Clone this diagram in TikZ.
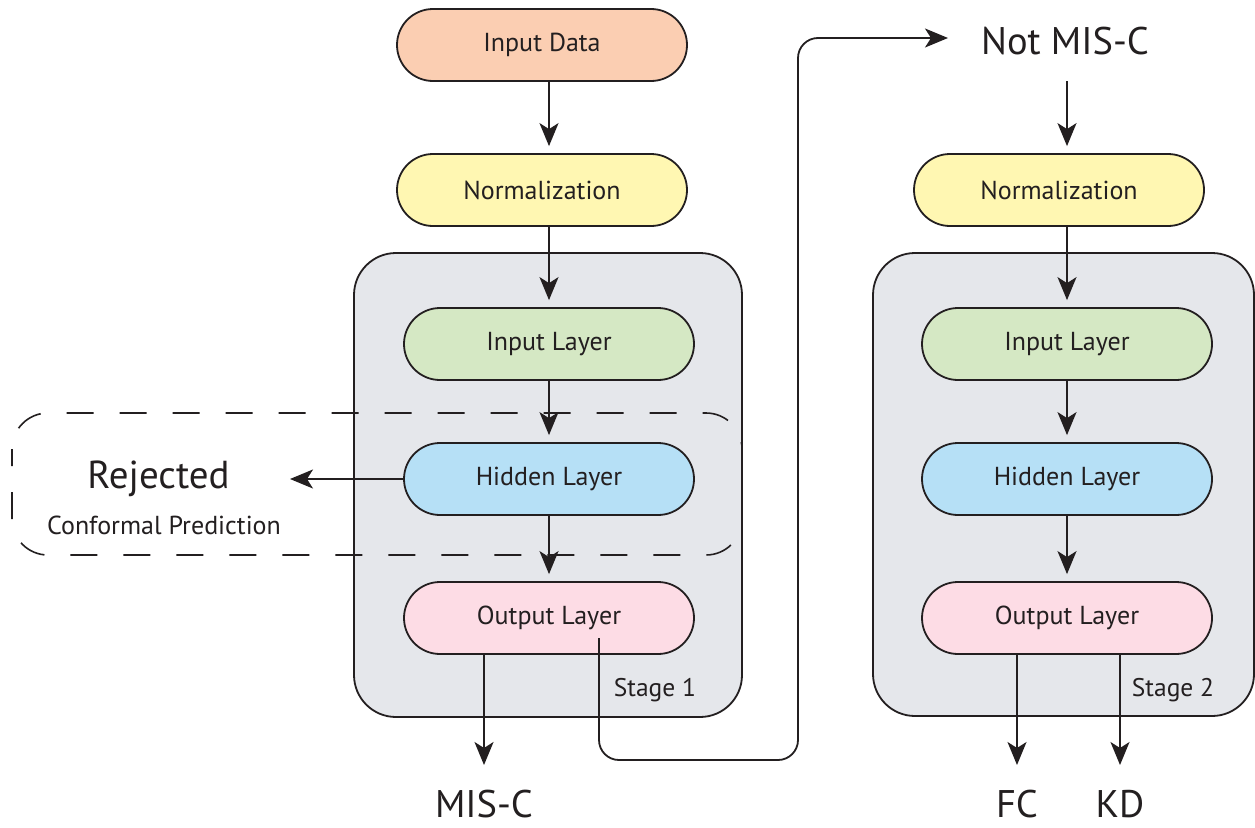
\documentclass[tikz,border=0pt]{standalone}
\usepackage{fontspec}
\setmainfont{PT Sans}
\usetikzlibrary{arrows.meta}
\definecolor{cOrange}{RGB}{251,206,178}
\definecolor{cYellow}{RGB}{255,247,178}
\definecolor{cGreen}{RGB}{213,232,196}
\definecolor{cBlue}{RGB}{182,224,246}
\definecolor{cPink}{RGB}{253,220,229}
\definecolor{cGray}{RGB}{229,231,235}
\definecolor{cInk}{RGB}{35,31,32}
\tikzset{
  tip/.style={-{Stealth[length=23pt,width=19pt,inset=6pt]}},
  pill/.style={draw=cInk, line width=1.8pt, rounded corners=36pt, minimum width=290pt, minimum height=72pt, inner sep=0pt, font=\fontsize{26}{30}\selectfont, text=cInk},
  stagebox/.style={draw=cInk, line width=1.8pt, fill=cGray, rounded corners=42pt},
  arr/.style={draw=cInk, line width=1.8pt, tip, shorten >=7pt},
  bigtxt/.style={font=\fontsize{38.5}{42}\selectfont, text=cInk, inner sep=0pt},
  midtxt/.style={font=\fontsize{39}{42}\selectfont, text=cInk, inner sep=0pt},
  smalltxt/.style={font=\fontsize{26}{30}\selectfont, text=cInk, inner sep=0pt},
  stagetxt/.style={font=\fontsize{25.5}{30}\selectfont, text=cInk, inner sep=0pt},
}
\begin{document}
\begin{tikzpicture}[x=1pt, y=-1pt]
\useasboundingbox[fill=white] (0,0) rectangle (1255,827);
% stage boxes
\draw[stagebox] (354,253) rectangle (742,717);
\draw[stagebox] (873,253) rectangle (1254,716);
% left column
\node[pill, fill=cOrange] (indata) at (542,45) {Input Data};
\node[pill, fill=cYellow] (normL) at (542,190) {Normalization};
\node[pill, fill=cGreen] (ilL) at (549,344) {Input Layer};
\node[pill, fill=cBlue] (hlL) at (549,479) {Hidden Layer};
\node[pill, fill=cPink] (olL) at (549,618) {Output Layer};
\node[stagetxt] (st1) at (655,690) {Stage 1};
% right column
\node[bigtxt] (notmisc) at (1065,41) {Not MIS-C};
\node[pill, fill=cYellow] (normR) at (1059,190) {Normalization};
\node[pill, fill=cGreen] (ilR) at (1067,344) {Input Layer};
\node[pill, fill=cBlue] (hlR) at (1067,479) {Hidden Layer};
\node[pill, fill=cPink] (olR) at (1067,618) {Output Layer};
\node[stagetxt] (st2) at (1173,690) {Stage 2};
% outputs
\node[bigtxt] (misc) at (484,804) {MIS-C};
\node[bigtxt] (fc) at (1017,804) {FC};
\node[bigtxt] (kd) at (1120,804) {KD};
% rejected
\node[midtxt] (rej) at (158.5,479) {Rejected};
\node[smalltxt] (conf) at (164,525) {Conformal Prediction};
\coordinate (rejtip) at (290,479);
\coordinate (notmisctip) at (948,38);
% dashed region
\draw[cInk, line width=1.6pt, dash pattern=on 27pt off 26pt, dash phase=10pt, rounded corners=36pt] (12,413) rectangle (742,555);
% arrows left
\draw[arr] (indata.south -| ilL) -- (normL.north -| ilL);
\draw[arr] (normL.south -| ilL) -- (ilL.north);
\draw[arr] (ilL.south) -- (hlL.north);
\draw[arr] (hlL.south) -- (olL.north);
\draw[arr, shorten >=0pt] (hlL.west) -- (rejtip);
\draw[arr, shorten >=0pt] (olL.south -| misc) -- (misc.north |- 0,765);
% loop connector
\draw[cInk, line width=1.8pt, rounded corners=20pt, tip]
  ([xshift=50pt,yshift=-20pt]olL.center) -- (599,760) -- (798,760) -- (798,38) -- (notmisctip);
% arrows right
\draw[arr] (notmisc.south -| ilR) ++(0,26) -- (normR.north -| ilR);
\draw[arr] (normR.south -| ilR) -- (ilR.north);
\draw[arr] (ilR.south) -- (hlR.north);
\draw[arr] (hlR.south) -- (olR.north);
\draw[arr, shorten >=0pt] (olR.south -| fc) -- (fc.north |- 0,765);
\draw[arr, shorten >=0pt] (olR.south -| kd) -- (kd.north |- 0,765);
\end{tikzpicture}
\end{document}
